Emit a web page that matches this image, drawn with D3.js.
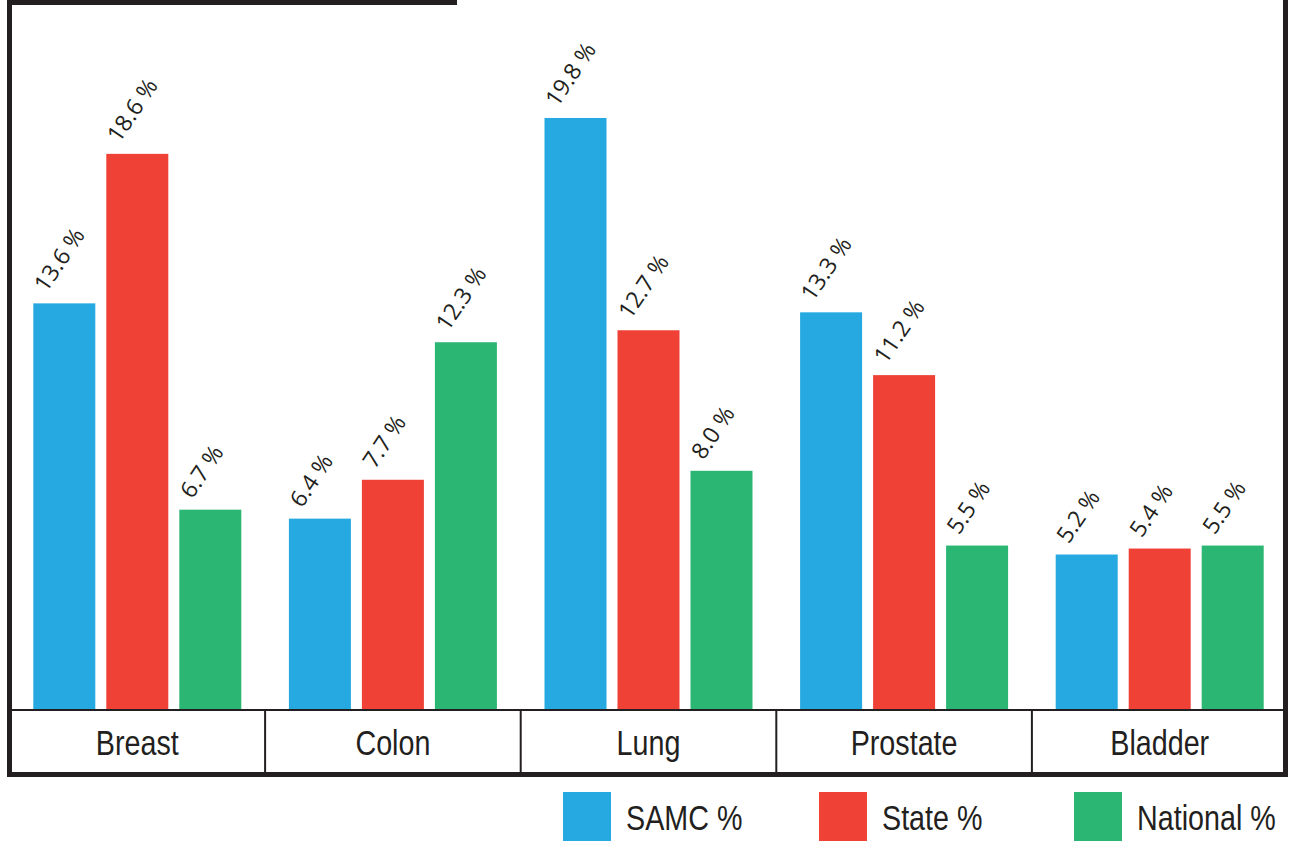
<!DOCTYPE html>
<html>
<head>
<meta charset="utf-8">
<script src="https://cdn.jsdelivr.net/npm/d3@7"></script>
<style>
  body { margin: 0; background: #fff; }
</style>
</head>
<body>
<div id="chart"></div>
<script>
const categories = ["Breast", "Colon", "Lung", "Prostate", "Bladder"];
const seriesNames = ["SAMC %", "State %", "National %"];
const samcValues = [13.6, 6.4, 19.8, 13.3, 5.2];
const stateValues = [18.6, 7.7, 12.7, 11.2, 5.4];
const nationalValues = [6.7, 12.3, 8.0, 5.5, 5.5];
const seriesColors = ["#26a9e0", "#ef4136", "#2bb673"];

const ink = "#231f20";
const W = 1291, H = 842;
const baseY = 710;
const narrow = 0.82; // squeeze Liberation Sans into a condensed look

const svg = d3.select("#chart")
    .append("svg")
    .attr("width", W)
    .attr("height", H);

const x = d3.scaleBand()
    .domain(categories)
    .range([9.5, 1287.5]);

const y = d3.scaleLinear()
    .domain([0, 20])
    .range([baseY, baseY - 20 * 29.9]);

const table = categories.map((c, i) => ({
    cat: c,
    vals: [samcValues[i], stateValues[i], nationalValues[i]]
}));

const groupWidth = 208;
const inner = d3.scaleBand()
    .domain(seriesNames)
    .range([0, groupWidth])
    .paddingInner(11 / 73)
    .paddingOuter(0);

const groups = svg.selectAll(".grp")
    .data(table)
    .enter()
    .append("g")
    .attr("class", "grp")
    .attr("transform", d => `translate(${x(d.cat) + (x.bandwidth() - groupWidth) / 2},0)`);

groups.selectAll("rect")
    .data(d => d.vals.map((v, i) => ({ name: seriesNames[i], v, i })))
    .enter()
    .append("rect")
    .attr("x", d => inner(d.name))
    .attr("y", d => y(d.v))
    .attr("width", inner.bandwidth())
    .attr("height", d => baseY - y(d.v))
    .attr("fill", d => seriesColors[d.i]);

groups.selectAll(".lbl")
    .data(d => d.vals.map((v, i) => ({ name: seriesNames[i], v, i })))
    .enter()
    .append("text")
    .attr("class", "lbl")
    .attr("transform", d => `translate(${inner(d.name) + 13},${y(d.v) - 10}) rotate(-56)`)
    .attr("font-family", "'Open Sans', sans-serif")
    .attr("font-size", "23px")
    .attr("fill", ink)
    .text(d => d.v.toFixed(1) + " %");

// category axis
const axis = svg.append("g")
    .attr("transform", `translate(0,${baseY})`)
    .call(d3.axisBottom(x).tickSize(0).tickPadding(0));

axis.select(".domain")
    .attr("d", `M12,0H1284`)
    .attr("stroke", ink)
    .attr("stroke-width", 2);

axis.selectAll(".tick text")
    .attr("y", 0)
    .attr("dy", 0)
    .attr("transform", `translate(0,45) scale(${narrow},1)`)
    .attr("font-family", "'Liberation Sans', Arial, sans-serif")
    .attr("font-size", "35px")
    .attr("fill", ink);

svg.selectAll(".divider")
    .data(categories.slice(1))
    .enter()
    .append("line")
    .attr("class", "divider")
    .attr("x1", d => x(d))
    .attr("x2", d => x(d))
    .attr("y1", baseY)
    .attr("y2", 774)
    .attr("stroke", ink)
    .attr("stroke-width", 2);

// frame
const frame = svg.append("g")
    .attr("stroke", ink)
    .attr("fill", "none");
frame.append("line").attr("x1", 7).attr("x2", 457).attr("y1", 2.5).attr("y2", 2.5).attr("stroke-width", 5);
frame.append("line").attr("x1", 9.5).attr("x2", 9.5).attr("y1", 0).attr("y2", 777).attr("stroke-width", 5);
frame.append("line").attr("x1", 1285.5).attr("x2", 1285.5).attr("y1", 0).attr("y2", 777).attr("stroke-width", 5);
frame.append("line").attr("x1", 7).attr("x2", 1288).attr("y1", 774.5).attr("y2", 774.5).attr("stroke-width", 5);

// legend
const legendX = [563, 819, 1074];
const legend = svg.selectAll(".leg")
    .data(seriesNames)
    .enter()
    .append("g")
    .attr("class", "leg")
    .attr("transform", (d, i) => `translate(${legendX[i]},792)`);

legend.append("rect")
    .attr("width", 48)
    .attr("height", 49)
    .attr("fill", (d, i) => seriesColors[i]);

legend.append("text")
    .attr("transform", `translate(63,38) scale(${narrow},1)`)
    .attr("font-family", "'Liberation Sans', Arial, sans-serif")
    .attr("font-size", "35px")
    .attr("fill", ink)
    .text(d => d);
</script>
</body>
</html>
